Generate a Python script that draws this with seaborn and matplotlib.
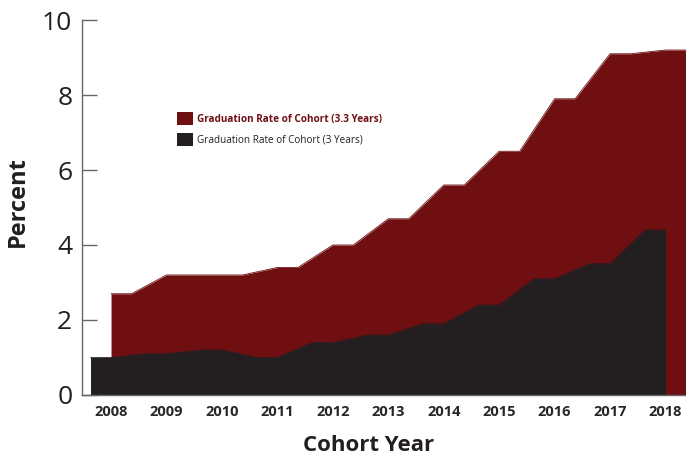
import numpy as np
import pandas as pd
import seaborn as sns
import matplotlib.pyplot as plt
from matplotlib.patches import Patch

# данные
years = [2008, 2009, 2010, 2011, 2012, 2013, 2014, 2015, 2016, 2017, 2018]
rate_33 = [2.7, 3.2, 3.2, 3.4, 4.0, 4.7, 5.6, 6.5, 7.9, 9.1, 9.2]
rate_3 = [1.0, 1.1, 1.2, 1.0, 1.4, 1.6, 1.9, 2.4, 3.1, 3.5, 4.4]

label_33 = 'Graduation Rate of Cohort (3.3 Years)'
label_3 = 'Graduation Rate of Cohort (3 Years)'

RED = '#6f0f11'
DARK = '#231f20'
W = 0.37  # ширина "полочки" у каждого года

sns.set_theme(style='white')
plt.rcParams['font.family'] = ['Open Sans', 'DejaVu Sans']


def profile(yrs, vals, left):
    xs, ys = [], []
    for y, v in zip(yrs, vals):
        if left:
            xs += [y - W, y]
        else:
            xs += [y, y + W]
        ys += [v, v]
    return pd.DataFrame({'x': xs, 'y': ys})


df_red = profile(years, rate_33, left=False)
df_dark = profile(years, rate_3, left=True)

fig = plt.figure(figsize=(6.86, 4.58), dpi=100)
ax = fig.add_axes([0.1195, 0.1376, 0.8805, 0.8187])

ax.fill_between(df_red['x'], 0, df_red['y'], color=RED, lw=0, zorder=2)
sns.lineplot(data=df_red, x='x', y='y', color=RED, lw=0.6, ax=ax, zorder=2)
ax.fill_between(df_dark['x'], 0, df_dark['y'], color=DARK, lw=0, zorder=3)
sns.lineplot(data=df_dark, x='x', y='y', color=DARK, lw=0.6, ax=ax, zorder=3)

ax.set_xlim(2007.476, 2018.37)
ax.set_ylim(0, 10)
ax.set_xticks(years)
ax.set_xticklabels([str(y) for y in years], fontsize=10.5, fontweight='bold', color='#2a2627')
ax.set_yticks([0, 2, 4, 6, 8, 10])
ax.set_yticklabels(['0', '2', '4', '6', '8', '10'], fontsize=19, color='#231f20')
ax.tick_params(axis='x', length=0, pad=7)
ax.tick_params(axis='y', direction='in', length=11, width=1, color='#666666', pad=7, left=True)

for s in ['top', 'right']:
    ax.spines[s].set_visible(False)
for s in ['left', 'bottom']:
    ax.spines[s].set_color('#666666')
    ax.spines[s].set_linewidth(1)
    ax.spines[s].set_zorder(4)

ax.set_xlabel('Cohort Year', fontsize=16, fontweight='bold', color='#231f20')
ax.set_ylabel('Percent', fontsize=17, fontweight='bold', color='#231f20')
ax.xaxis.set_label_coords(0.474, -0.136)
ax.yaxis.set_label_coords(-0.106, 0.515)
ax.xaxis.label.set_va('center')
ax.yaxis.label.set_va('center')

handles = [Patch(facecolor=RED, edgecolor='none', label=label_33),
           Patch(facecolor=DARK, edgecolor='none', label=label_3)]
leg = ax.legend(handles=handles, loc='upper left', bbox_to_anchor=(0.157, 0.755),
                frameon=False, fontsize=7.2, borderpad=0, borderaxespad=0,
                handlelength=1.6, handleheight=1.6, handletextpad=0.4,
                labelspacing=0.85, labelcolor=[RED, '#231f20'])
leg.get_texts()[0].set_fontweight('bold')

fig.savefig('out.png', dpi=100)
